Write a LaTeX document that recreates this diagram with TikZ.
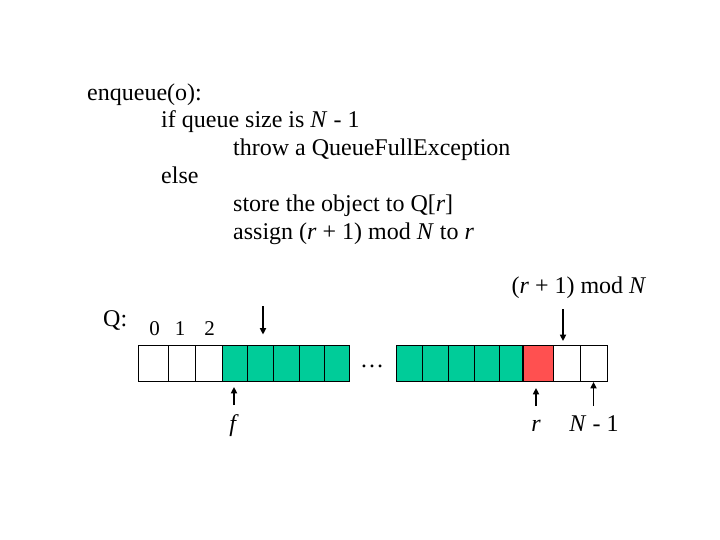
\documentclass[tikz,border=0pt]{standalone}
\usepackage{fontspec}
\setmainfont{Liberation Serif}
\usetikzlibrary{arrows.meta}
\definecolor{qgreen}{RGB}{0,204,153}
\definecolor{qred}{RGB}{255,80,80}
\begin{document}
\begin{tikzpicture}[x=1pt, y=-1pt,
    txt/.style ={font=\fontsize{24}{28}\selectfont, anchor=base west, inner sep=0pt},
    lbl/.style ={font=\fontsize{24}{28}\selectfont, inner sep=0pt},
    idx/.style ={font=\fontsize{21}{24}\selectfont, anchor=base, inner sep=0pt},
    cell/.style={draw, line width=0.8pt, minimum height=36pt, inner sep=0pt},
    ptr/.style ={line width=1.6pt, -{Triangle[length=6.5pt,width=6pt]}},
  ]
  \useasboundingbox[fill=white] (0,0) rectangle (720,540);

  % pseudo code
  \node[txt] (l1) at (87,100.5)  {enqueue(o):};
  \node[txt] (l2) at (161,128) {if queue size is \textit{N} - 1};
  \node[txt] (l3) at (233,156) {throw a QueueFullException};
  \node[txt] (l4) at (161,183.5) {else};
  \node[txt] (l5) at (233,211.5) {store the object to Q[\textit{r}]};
  \node[txt] (l6) at (233,239.5) {assign (\textit{r} + 1) mod \textit{N} to \textit{r}};

  % array cells (left part, right part)
  \foreach \n/\xa/\xb/\c in {a0/138/168/white, a1/168/195/white, a2/195/222/white,
      a3/222/247/qgreen, a4/247/273/qgreen, a5/273/299/qgreen, a6/299/324/qgreen, a7/324/349/qgreen,
      b0/396/422/qgreen, b1/422/448/qgreen, b2/448/474/qgreen, b3/474/499/qgreen, b4/499/523/qgreen,
      b5/523/553/qred, b6/553/580/white, b7/580/607/white}
    \node[cell, fill=\c, minimum width={(\xb-\xa)*1pt}] (\n) at ({(\xa+\xb)/2},363.5) {};
  \draw[line width=1.6pt] (b5.north west) -- (b5.south west);

  \node[lbl, anchor=base west] (q) at (103,326) {Q:};
  \node[idx] (i0) at (154.5,335.5) {0};
  \node[idx] (i1) at (180,335.5) {1};
  \node[idx] (i2) at (209.5,335.5) {2};
  \node[lbl] (dots) at (372,366) {\dots};

  % pointers
  \coordinate (tf) at (234,405);
  \coordinate (tm) at (263,306);
  \coordinate (tn) at (563,309);
  \coordinate (tr) at (536,406);
  \coordinate (te) at (593.5,406);
  \draw[ptr] (tf) -- ([xshift=-0.5pt,yshift=-5pt]a3.south);
  \draw[ptr] (tm) -- ([xshift=3pt,yshift=10.5pt]a4.north);
  \draw[ptr] (tn) -- ([xshift=-3.5pt,yshift=4pt]b6.north);
  \draw[ptr] (tr) -- ([xshift=-2pt,yshift=-6pt]b5.south);
  \draw[ptr] (te) -- (b7.south);

  \node[lbl, anchor=base] (f) at (234,431) {\textit{f}};
  \node[lbl, anchor=base] (r) at (536,431) {\textit{r}};
  \node[lbl, anchor=base] (nm) at (594,431) {\textit{N} - 1};
  \node[lbl, anchor=base] (rn) at (579,293) {(\textit{r} + 1) mod \textit{N}};
\end{tikzpicture}
\end{document}
